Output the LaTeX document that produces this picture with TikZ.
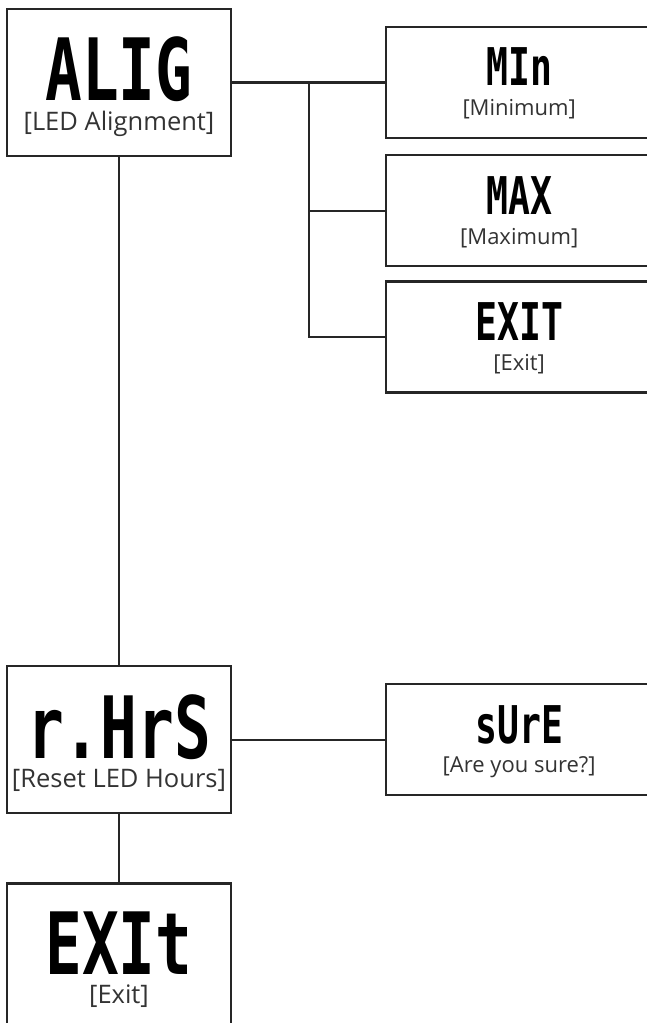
\documentclass[tikz,border=0pt]{standalone}
\usepackage{fontspec}
\setmainfont{Open Sans}
\newfontfamily\segfont{DejaVu Sans Mono}
\usepackage{graphicx}
\usetikzlibrary{positioning}

\newcommand{\bigseg}[1]{\scalebox{0.71}[1]{#1}}
\newcommand{\smallseg}[1]{\scalebox{0.70}[1]{#1}}

\begin{document}
\begin{tikzpicture}[x=1pt,
                    y=1pt,
                    line width=2.2pt,
                    draw=black!85,
                    menu/.style={rectangle,draw,minimum width=224pt,minimum height=147pt,inner sep=0pt},
                    sub/.style={rectangle,draw,minimum width=266pt,minimum height=111pt,inner sep=0pt},
                    bigtxt/.style={anchor=base,inner sep=0pt,font=\segfont\bfseries\fontsize{86}{86}\selectfont},
                    smalltxt/.style={anchor=base,inner sep=0pt,font=\segfont\bfseries\fontsize{52}{52}\selectfont},
                    biglbl/.style={anchor=base,inner sep=0pt,text=black!80,font=\fontsize{25.5}{27}\selectfont},
                    lbl/.style={anchor=base,inner sep=0pt,text=black!80,font=\fontsize{22}{24}\selectfont}
                    ]
\useasboundingbox (0,0) rectangle (646,-1023);
% main menu
  \node[menu] (alig) at (119,-82.5) {};
  \node[menu] (rhrs) [below=508pt of alig] {};
  \node[menu] (exit) [below=68pt of rhrs] {};
  \node[bigtxt] (aligtxt) at ([yshift=-93pt]alig.north) {\bigseg{ALIG}};
  \node[biglbl] (aliglbl) at ([yshift=-123pt]alig.north) {[LED Alignment]};
  \node[bigtxt] (rhrstxt) at ([yshift=-93pt]rhrs.north) {\bigseg{r.HrS}};
  \node[biglbl] (rhrslbl) at ([yshift=-122pt]rhrs.north) {[Reset LED Hours]};
  \node[bigtxt] (exittxt) at ([yshift=-92pt]exit.north) {\bigseg{EXIt}};
  \node[biglbl] (exitlbl) at ([yshift=-121pt]exit.north) {[Exit]};

% alignment sub menu
  \node[sub] (min) [right=153pt of alig] {};
  \node[sub] (max) [below=15pt of min] {};
  \node[sub] (exitsub) [below=13pt of max] {};
  \coordinate[right=77pt of alig.east] (br);
  \node[smalltxt] (mintxt) at ([yshift=-60pt]min.north) {\smallseg{MIn}};
  \node[lbl] (minlbl) at ([yshift=-90pt]min.north) {[Minimum]};
  \node[smalltxt] (maxtxt) at ([yshift=-60pt]max.north) {\smallseg{MAX}};
  \node[lbl] (maxlbl) at ([yshift=-90pt]max.north) {[Maximum]};
  \node[smalltxt] (exitsubtxt) at ([yshift=-60pt]exitsub.north) {\smallseg{EXIT}};
  \node[lbl] (exitsublbl) at ([yshift=-90pt]exitsub.north) {[Exit]};

% reset sub menu
  \node[sub] (sure) [right=153pt of rhrs] {};
  \node[smalltxt] (suretxt) at ([yshift=-60pt]sure.north) {\smallseg{sUrE}};
  \node[lbl] (surelbl) at ([yshift=-89pt]sure.north) {[Are you sure?]};

\draw (alig) -- (min);
\draw (br) |- (max);
\draw (br) |- (exitsub);
\draw (alig) -- (rhrs);
\draw (rhrs) -- (sure);
\draw (rhrs) -- (exit);
\end{tikzpicture}
\end{document}
